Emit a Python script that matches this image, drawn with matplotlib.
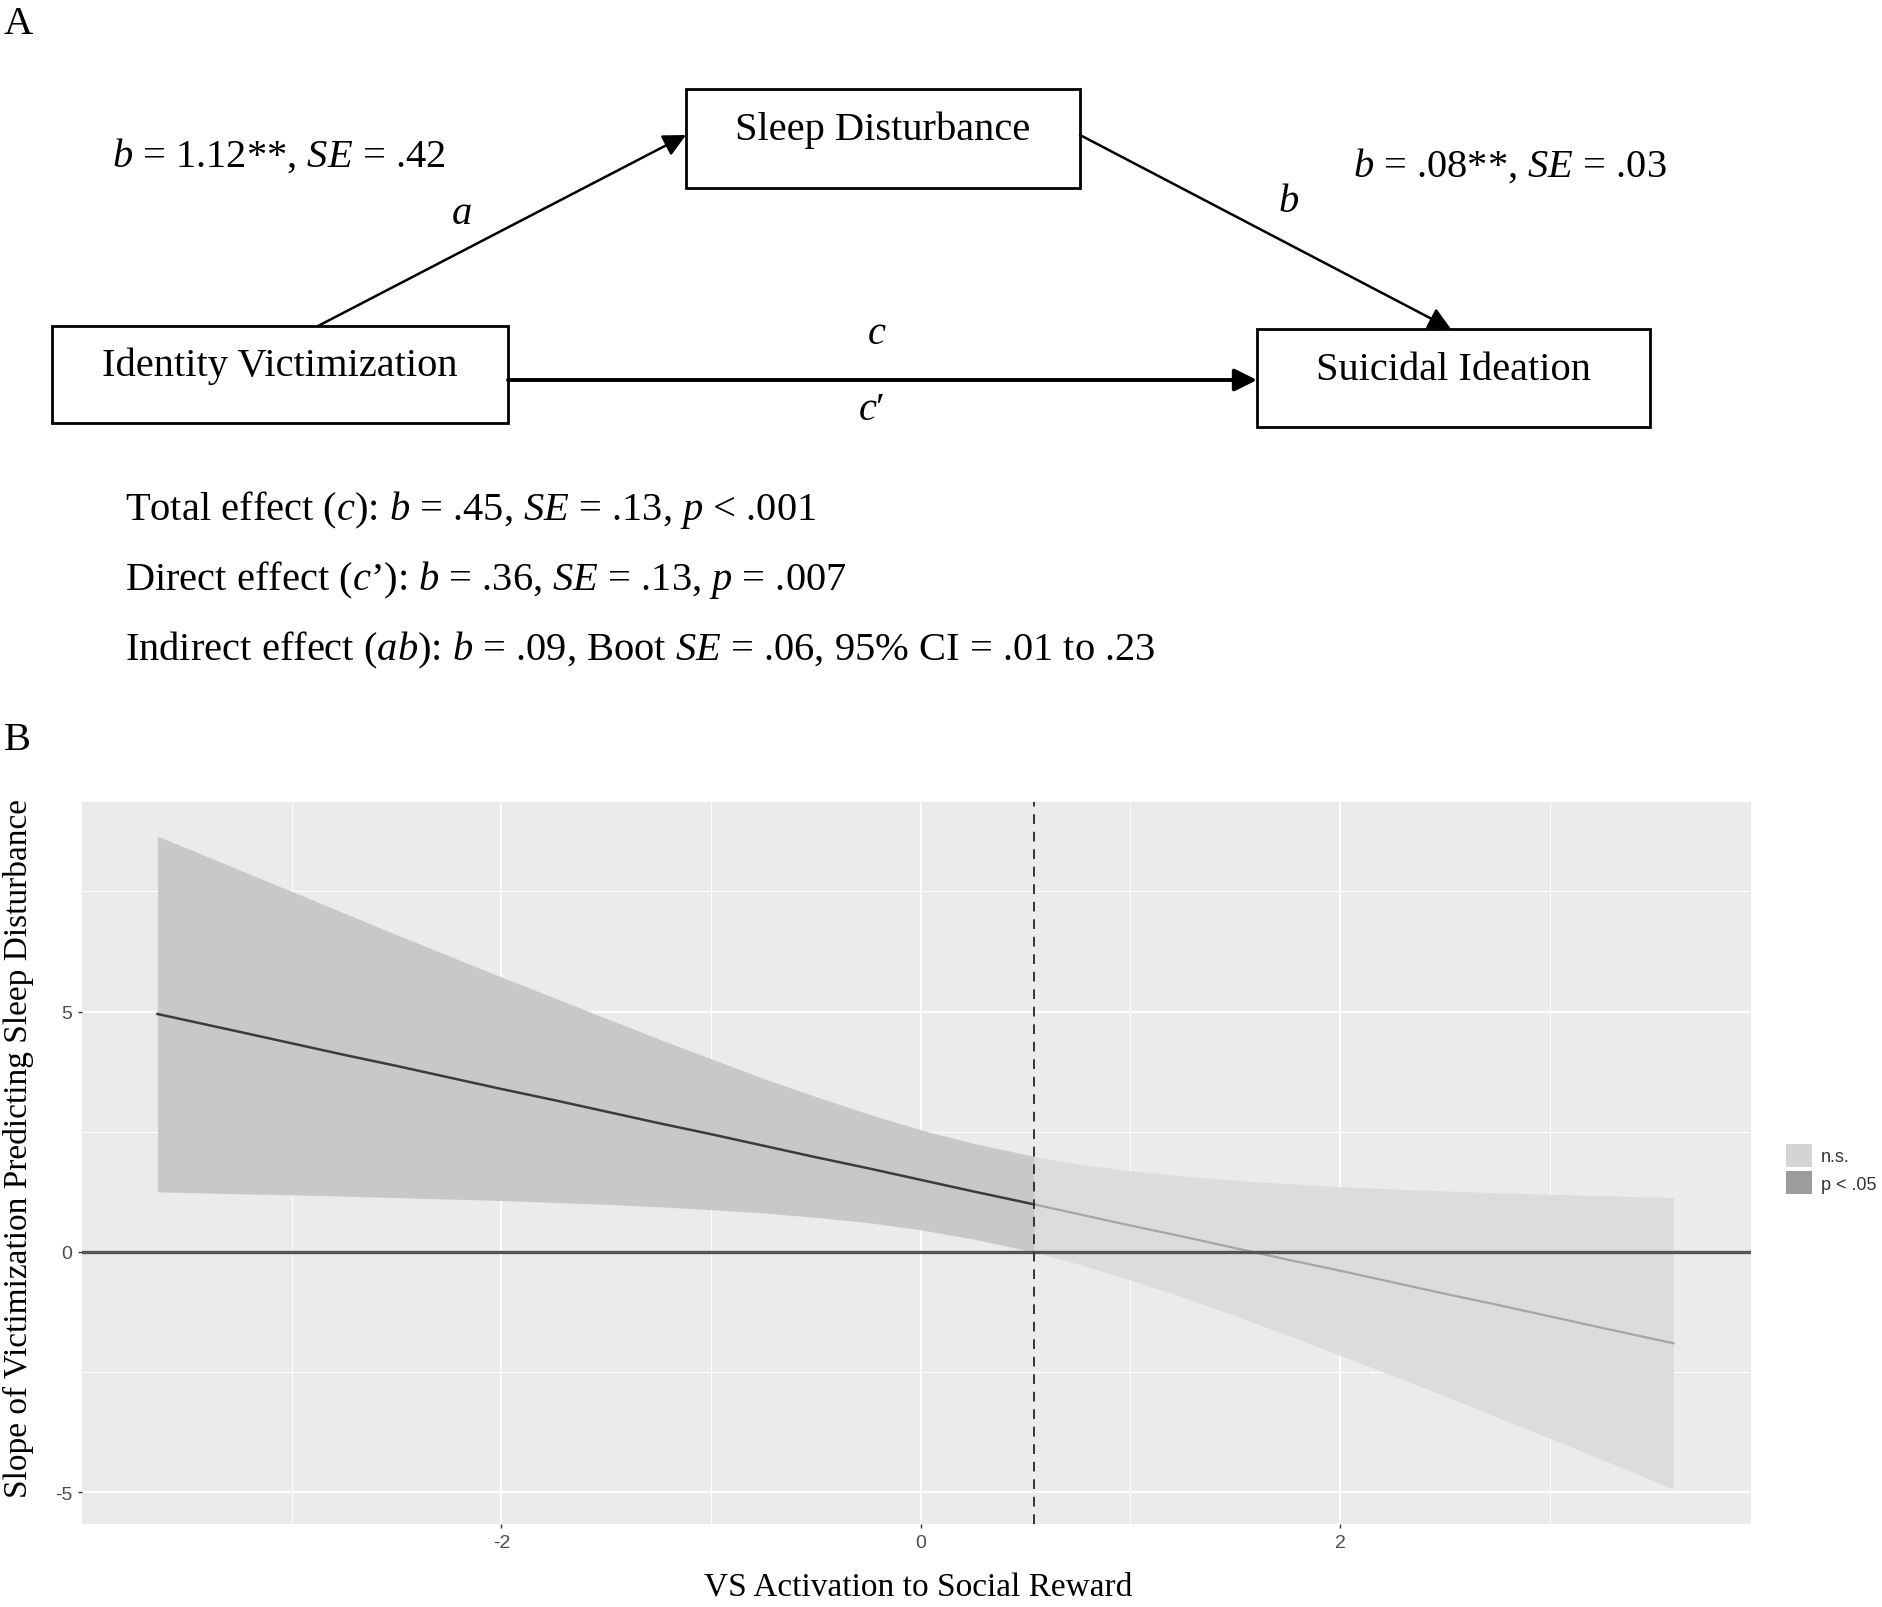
import matplotlib
matplotlib.use("Agg")
import matplotlib.pyplot as plt
from matplotlib.patches import Rectangle, Patch

plt.rcParams['font.family'] = ['Liberation Serif', 'DejaVu Serif']
plt.rcParams['mathtext.fontset'] = 'custom'
plt.rcParams['mathtext.rm'] = 'Liberation Serif'
plt.rcParams['mathtext.it'] = 'Liberation Serif:italic'
plt.rcParams['axes.unicode_minus'] = False

# Johnson-Neyman plot
x_sig = [-3.64, -3.25, -3.0, -2.75, -2.5, -2.25, -2.0, -1.75, -1.5, -1.25,
         -1.0, -0.75, -0.5, -0.25, 0.0, 0.25, 0.54]
upper_sig = [8.65, 7.95, 7.50, 7.05, 6.60, 6.16, 5.72, 5.29, 4.86, 4.43,
             4.02, 3.61, 3.23, 2.87, 2.54, 2.26, 1.99]
lower_sig = [1.25, 1.21, 1.19, 1.16, 1.13, 1.10, 1.07, 1.03, 0.99, 0.94,
             0.88, 0.81, 0.72, 0.61, 0.46, 0.27, 0.0]
slope_sig = [4.95, 4.58, 4.34, 4.10, 3.87, 3.63, 3.39, 3.16, 2.92, 2.68,
             2.45, 2.21, 1.97, 1.74, 1.50, 1.26, 0.99]

x_ns = [0.54, 0.75, 1.0, 1.25, 1.5, 1.75, 2.0, 2.25, 2.5, 2.75, 3.0, 3.25, 3.59]
upper_ns = [1.99, 1.83, 1.69, 1.58, 1.49, 1.42, 1.36, 1.31, 1.27, 1.23, 1.20, 1.17, 1.13]
lower_ns = [0.0, -0.25, -0.58, -0.94, -1.33, -1.73, -2.15, -2.57, -3.00, -3.44,
            -3.88, -4.32, -4.93]
slope_ns = [0.99, 0.79, 0.55, 0.32, 0.08, -0.16, -0.39, -0.63, -0.87, -1.10,
            -1.34, -1.58, -1.90]

jn_point = 0.54
x_ticks = [-2, 0, 2]
y_ticks = [-5, 0, 5]
legend_labels = ['n.s.', 'p < .05']

effects = [
    r"Total effect ($\mathit{c}$): $\mathit{b}$ = .45, $\mathit{SE}$ = .13, $\mathit{p}$ < .001",
    r"Direct effect ($\mathit{c}$’): $\mathit{b}$ = .36, $\mathit{SE}$ = .13, $\mathit{p}$ = .007",
    r"Indirect effect ($\mathit{ab}$): $\mathit{b}$ = .09, Boot $\mathit{SE}$ = .06, 95% CI = .01 to .23",
]

W, H = 1883, 1608
fig = plt.figure(figsize=(W / 100, H / 100), dpi=100)

# overlay in pixel coordinates for panel A and labels
ov = fig.add_axes([0, 0, 1, 1])
ov.set_xlim(0, W)
ov.set_ylim(H, 0)
ov.axis('off')
ov.patch.set_alpha(0)

fs = 29.2
ov.text(4, 24, 'A', fontsize=fs, va='center', ha='left')
ov.text(4, 741, 'B', fontsize=fs, va='center', ha='left')

boxes = {
    'Sleep Disturbance': (686, 90, 394, 99, 130),
    'Identity Victimization': (52, 327, 456, 97, 366),
    'Suicidal Ideation': (1257, 330, 393, 98, 370),
}
for name, (bx, by, bw, bh, ty) in boxes.items():
    ov.add_patch(Rectangle((bx, by), bw, bh, fill=False, lw=2.0, ec='black'))
    ov.text(bx + bw / 2, ty, name, fontsize=fs, ha='center', va='center')

arrow = dict(arrowstyle='-|>', mutation_scale=34, color='black', shrinkA=0, shrinkB=0)
ov.annotate('', xy=(686, 136), xytext=(318, 327), arrowprops=dict(arrow, lw=1.8))
ov.annotate('', xy=(1451, 330), xytext=(1080, 136), arrowprops=dict(arrow, lw=1.8))
ov.annotate('', xy=(1257, 381), xytext=(508, 381), arrowprops=dict(arrow, lw=2.8))

ov.text(112, 156, r"$\mathit{b}$ = 1.12**, $\mathit{SE}$ = .42", fontsize=fs, va='center')
ov.text(1353, 166, r"$\mathit{b}$ = .08**, $\mathit{SE}$ = .03", fontsize=fs, va='center')
ov.text(462, 214, 'a', fontsize=fs, style='italic', ha='center', va='center')
ov.text(1289, 202, 'b', fontsize=fs, style='italic', ha='center', va='center')
ov.text(877, 334, 'c', fontsize=fs, style='italic', ha='center', va='center')
ov.text(871, 411, r"$\mathit{c}$′", fontsize=fs, ha='center', va='center')

for i, line in enumerate(effects):
    ov.text(125, 510 + 70 * i, line, fontsize=fs, va='center')

# panel B
ax = fig.add_axes([82 / W, 1 - 1525 / H, (1751 - 82) / W, (1525 - 803) / H])
ax.set_facecolor('#ebebeb')
for s in ax.spines.values():
    s.set_visible(False)
ax.set_xlim(-4.0, 3.96)
ax.set_ylim(-5.66, 9.36)
ax.set_xticks(x_ticks)
ax.set_yticks(y_ticks)
ax.set_xticks([-3, -1, 1, 3], minor=True)
ax.set_yticks([-2.5, 2.5, 7.5], minor=True)
ax.grid(which='major', color='white', lw=1.4)
ax.grid(which='minor', color='white', lw=0.7)
ax.set_axisbelow(True)
ax.tick_params(which='major', length=3, width=1, color='#333333', labelsize=14,
               labelcolor='#4d4d4d', pad=4)
ax.tick_params(which='minor', length=0)
for lab in ax.get_xticklabels() + ax.get_yticklabels():
    lab.set_family('Liberation Sans')

ax.fill_between(x_ns, lower_ns, upper_ns, color='#dcdcdc', lw=0, zorder=2)
ax.fill_between(x_sig, lower_sig, upper_sig, color='#c8c8c8', lw=0, zorder=2)
ax.plot(x_ns, slope_ns, color='#a6a6a6', lw=1.6, zorder=3)
ax.plot(x_sig, slope_sig, color='#3c3c3c', lw=1.8, zorder=3)
ax.axhline(0, color='#555555', lw=2.4, zorder=4)
ax.axvline(jn_point, color='#333333', lw=1.4, ls=(0, (5, 4)), zorder=5)

fig.text(918 / W, 1 - 1587 / H, 'VS Activation to Social Reward', fontsize=24,
         ha='center', va='center')
fig.text(18 / W, 1 - 1148 / H, 'Slope of Victimization Predicting Sleep Disturbance',
         fontsize=24, rotation=90, ha='center', va='center')

handles = [Patch(fc='#d4d4d4', ec='none'), Patch(fc='#9c9c9c', ec='none')]
leg = fig.legend(handles, legend_labels, loc='center left',
                 bbox_to_anchor=(1786 / W, 1 - 1170 / H), frameon=False,
                 handlelength=1.45, handleheight=1.55, handletextpad=0.5,
                 labelspacing=0.25, borderaxespad=0, borderpad=0,
                 prop={'family': 'Liberation Sans', 'size': 13})
for t in leg.get_texts():
    t.set_color('#333333')

fig.savefig('out.png', dpi=100, facecolor='white')
